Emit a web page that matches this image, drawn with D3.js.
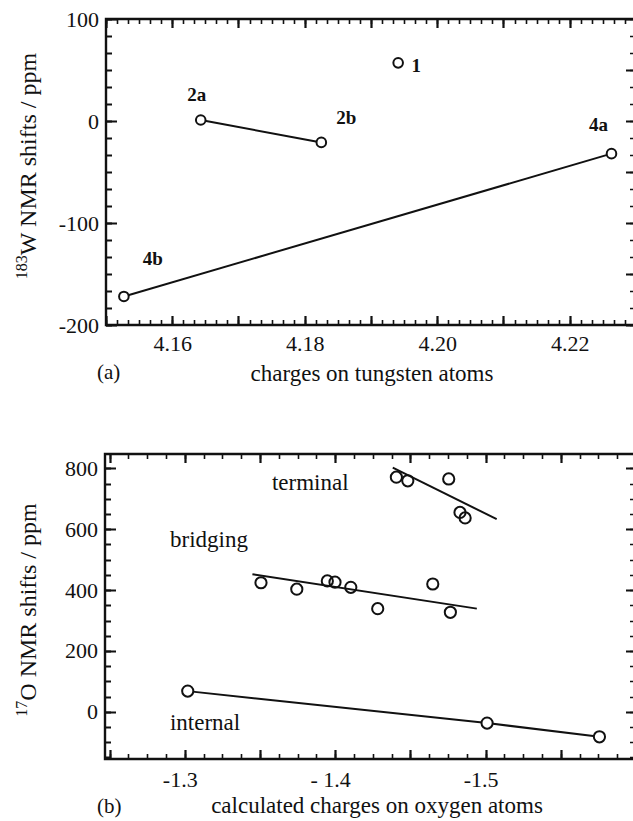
<!DOCTYPE html>
<html lang="en">
<head>
<meta charset="UTF-8">
<title>NMR shifts vs calculated charges</title>
<style>
  body, html { margin: 0; background: #fff; overflow: hidden; }
  svg text { font-family: "Liberation Serif", "Times New Roman", serif; fill: #111; }
</style>
</head>
<body>
<svg id="chart" width="633" height="821"></svg>
<script src="https://d3js.org/d3.v7.min.js"></script>
<script>
// ---- panel (a): 183W shifts vs charge on W ----
const wLabels  = ["2a", "2b", "1", "4a", "4b"];
const wCharge  = [4.1643, 4.1825, 4.1941, 4.2263, 4.1527];
const wShift   = [1, -21, 57, -32, -172];
const wLinks   = [["2a", "2b"], ["4b", "4a"]];
const aXTicks  = [4.16, 4.18, 4.20, 4.22];
const aYTicks  = [100, 0, -100, -200];

// ---- panel (b): 17O shifts vs charge on O ----
const terminalCharge = [-1.4407, -1.4483, -1.4755, -1.4830, -1.4864];
const terminalShift  = [771, 759, 765, 655, 637];
const bridgingCharge = [-1.3507, -1.3745, -1.3948, -1.3999, -1.4104, -1.4283, -1.4649, -1.4766];
const bridgingShift  = [424, 403, 430, 426, 409, 339, 420, 327];
const internalCharge = [-1.302, -1.501, -1.5757];
const internalShift  = [68, -37, -82];
const terminalFit = [[-1.4383, 802], [-1.5074, 633]];
const bridgingFit = [[-1.3450, 452], [-1.4942, 339]];
const bXTicks = [-1.3, -1.4, -1.5];
const bXTickText = ["-1.3", "- 1.4", "-1.5"];
const bYTicks = [800, 600, 400, 200, 0];

const svg = d3.select("#chart");
const ink = "#111";
const serif = "Liberation Serif, Times New Roman, serif";

function range(a, b, step) {
  const out = [];
  const n = Math.round((b - a) / step);
  for (let i = 0; i <= n; i++) out.push(a + i * step);
  return out;
}

// plain hyphen instead of the unicode minus d3 uses
const hyphen = f => d => f(d).replace("\u2212", "-");

// inward tick marks along one side, as one path: side is "l", "r", "t" or "b"
function ticks(g, scale, values, side, at, len, w) {
  const vert = side === "l" || side === "r";
  const dir = side === "l" || side === "t" ? 1 : -1;
  const d = values.map(v => {
    const p = Math.round(scale(v)) + 0.5;
    return vert ? `M${at},${p}h${dir * len}` : `M${p},${at}v${dir * len}`;
  }).join("");
  g.append("path").attr("d", d)
    .attr("fill", "none").attr("stroke", ink).attr("stroke-width", w)
    .attr("stroke-linecap", "butt");
}

function labels(g, axis, tx, ty) {
  return g.append("g").attr("transform", `translate(${tx},${ty})`)
    .call(axis.tickSize(0))
    .call(a => a.select(".domain").remove())
    .call(a => a.selectAll(".tick line").remove())
    .call(a => a.selectAll(".tick text").attr("font-family", serif)
      .attr("font-size", 22).attr("fill", ink));
}

// boxed frame with inward ticks on all four sides
function frame(g, x, y, o) {
  const [x0, x1] = x.range();
  const [yb, yt] = y.range();

  // the spines (right one falls just past the picture edge)
  g.append("path")
    .attr("d", `M${x1},${yt}H${x0}V${yb}H${x1}`)
    .attr("fill", "none").attr("stroke", ink).attr("stroke-width", 2.4);

  ticks(g, y, o.yMinor, "l", x0, 6, 1.8);
  ticks(g, y, o.yMajor, "l", x0, 11, 2.2);
  ticks(g, y, o.yRightMinor, "r", 633, 3, 1.5);
  ticks(g, y, o.yRight, "r", 633, 7, 2.2);
  ticks(g, x, o.xMinor, "t", yt, 5, 1.6);
  ticks(g, x, o.xMajor, "t", yt, 9, 2.2);
  ticks(g, x, o.xMinor, "b", yb, 5, 1.6);
  ticks(g, x, o.xMajor, "b", yb, 9, 2.2);

  labels(g, d3.axisLeft(y).tickValues(o.yMajor).tickPadding(7)
    .tickFormat(hyphen(d3.format("d"))), x0, 0);
  labels(g, d3.axisBottom(x).tickValues(o.xLabelled).tickPadding(o.xPad)
    .tickFormat(o.xFormat), 0, yb)
    .selectAll("text").attr("dx", o.xDx || 0);
}

function yTitle(g, cx, cy, sup, rest) {
  const t = g.append("text")
    .attr("transform", `translate(${cx},${cy}) rotate(-90)`)
    .attr("text-anchor", "middle").attr("font-size", 24).attr("font-family", serif);
  t.append("tspan").attr("font-size", 16).attr("dy", -9).text(sup);
  t.append("tspan").attr("dy", 9).text(rest);
}

const line = (x, y) => d3.line().x(d => x(d[0])).y(d => y(d[1]));

// ================= panel (a) =================
{
  const x = d3.scaleLinear().domain([4.15, 4.23]).range([106, 636]);
  const y = d3.scaleLinear().domain([-200, 100]).range([325, 19]);
  const g = svg.append("g");

  frame(g, x, y, {
    yMajor: aYTicks,
    yMinor: range(-200, 100, 100 / 6),
    yRight: range(-200, 100, 50),
    yRightMinor: range(-200, 100, 50 / 3),
    xMajor: range(4.15, 4.23, 0.01),
    xMinor: range(4.15, 4.23, 0.01 / 6),
    xLabelled: aXTicks,
    xPad: 10,
    xFormat: d3.format(".2f")
  });

  const pts = wLabels.map((k, i) => ({ k, c: wCharge[i], s: wShift[i] }));
  const byKey = Object.fromEntries(pts.map(p => [p.k, p]));

  g.selectAll(".wlink").data(wLinks).enter().append("path")
    .attr("class", "wlink")
    .attr("d", d => line(x, y)(d.map(k => [byKey[k].c, byKey[k].s])))
    .attr("fill", "none").attr("stroke", ink).attr("stroke-width", 2);

  g.selectAll(".wpt").data(pts).enter().append("circle")
    .attr("class", "wpt")
    .attr("cx", d => x(d.c)).attr("cy", d => y(d.s)).attr("r", 4.8)
    .attr("fill", "#fff").attr("stroke", ink).attr("stroke-width", 2);

  const off = { "2a": [-4, -19], "2b": [25, -18], "1": [18, 9], "4a": [-13, -23], "4b": [29, -31] };
  g.selectAll(".wlab").data(pts).enter().append("text")
    .attr("class", "wlab")
    .attr("x", d => x(d.c) + off[d.k][0]).attr("y", d => y(d.s) + off[d.k][1])
    .attr("text-anchor", "middle").attr("font-size", 19).attr("font-weight", "bold")
    .attr("font-family", serif)
    .text(d => d.k);

  yTitle(g, 36, 166, "183", "W NMR shifts / ppm");
  g.append("text").attr("x", 372).attr("y", 381).attr("text-anchor", "middle")
    .attr("font-size", 23).attr("font-family", serif).text("charges on tungsten atoms");
  g.append("text").attr("x", 97).attr("y", 379).attr("font-size", 21)
    .attr("font-family", serif).text("(a)");
}

// ================= panel (b) =================
{
  const x = d3.scaleLinear().domain([-1.247, -1.6]).range([105, 636]);
  const y = d3.scaleLinear().domain([-155, 847]).range([759, 454]);
  const g = svg.append("g");

  frame(g, x, y, {
    yMajor: bYTicks,
    yMinor: range(-150, 800, 50),
    yRight: range(0, 800, 200),
    yRightMinor: range(-150, 800, 50),
    xMajor: range(-1.25, -1.6, -0.05),
    xMinor: range(-1.25, -1.6, -0.0125),
    xLabelled: bXTicks,
    xPad: 12,
    xFormat: (d, i) => bXTickText[i],
    xDx: -5
  });

  const groups = [
    { name: "terminal", c: terminalCharge, s: terminalShift, fit: terminalFit, lab: [-1.358, 729] },
    { name: "bridging", c: bridgingCharge, s: bridgingShift, fit: bridgingFit, lab: [-1.2902, 541] },
    { name: "internal", c: internalCharge, s: internalShift, fit: null, lab: [-1.2902, -60] }
  ];

  groups.forEach(gr => {
    const pts = gr.c.map((c, i) => [c, gr.s[i]]);
    g.append("path")
      .attr("d", line(x, y)(gr.fit || pts))
      .attr("fill", "none").attr("stroke", ink).attr("stroke-width", 2);
    g.selectAll(null).data(pts).enter().append("circle")
      .attr("cx", d => x(d[0])).attr("cy", d => y(d[1])).attr("r", 5.6)
      .attr("fill", gr.fit ? "none" : "#fff").attr("stroke", ink).attr("stroke-width", 2);
    g.append("text").attr("x", x(gr.lab[0])).attr("y", y(gr.lab[1]))
      .attr("font-size", 23).attr("font-family", serif).text(gr.name);
  });

  yTitle(g, 36, 610, "17", "O NMR shifts / ppm");
  g.append("text").attr("x", 377).attr("y", 813).attr("text-anchor", "middle")
    .attr("font-size", 23).attr("font-family", serif).text("calculated charges on oxygen atoms");
  g.append("text").attr("x", 97).attr("y", 813).attr("font-size", 21)
    .attr("font-family", serif).text("(b)");
}
</script>
</body>
</html>
